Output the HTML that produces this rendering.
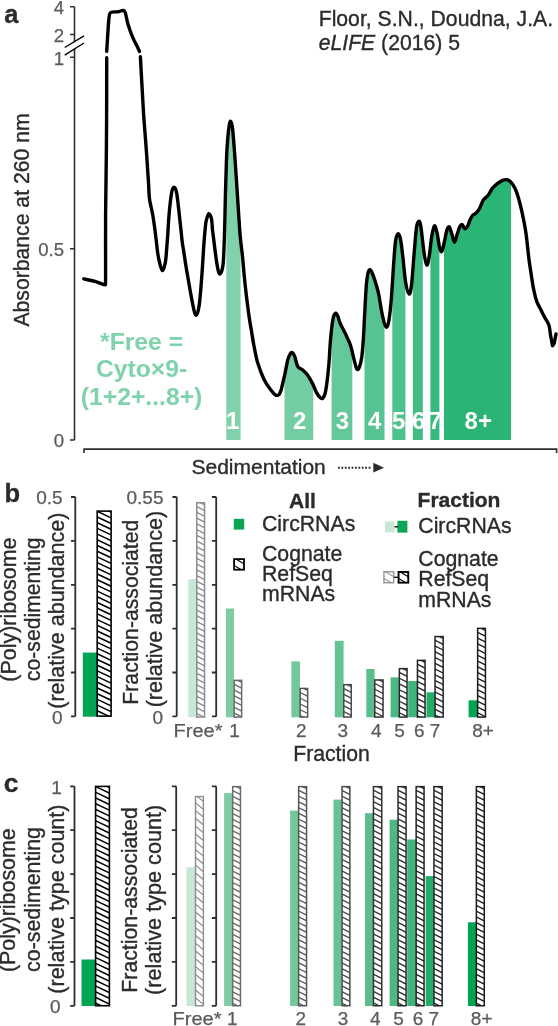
<!DOCTYPE html>
<html><head><meta charset="utf-8"><title>Figure</title>
<style>
html,body{margin:0;padding:0;background:#fff;}
body{width:558px;height:1026px;overflow:hidden;}
svg{display:block;will-change:transform;font-family:"Liberation Sans", sans-serif;}
text[fill="#2b2b2b"]{stroke:#2b2b2b;stroke-width:0.35px;}
text[fill="#5a5a5a"]{stroke:#5a5a5a;stroke-width:0.25px;}
</style></head>
<body>
<svg width="558" height="1026" viewBox="0 0 558 1026">
<defs>
<clipPath id="under"><path d="M140.4 56.8C140.8 64.1 142.2 89.9 142.8 100.4C143.4 110.9 143.4 111.3 144.0 120.0C144.6 128.7 145.8 142.2 146.5 152.6C147.2 163.0 148.0 175.0 148.5 182.7C149.0 190.4 148.8 193.6 149.5 199.0C150.2 204.4 151.8 209.0 152.8 215.3C153.9 221.6 155.1 231.2 155.8 237.0C156.6 242.8 156.8 246.2 157.3 250.0C157.8 253.8 158.2 256.6 159.0 260.0C159.8 263.4 161.2 270.2 162.3 270.6C163.4 271.0 164.6 266.0 165.3 262.6C166.0 259.2 166.2 254.8 166.6 250.0C167.0 245.2 167.4 239.8 167.8 234.0C168.2 228.2 168.4 222.2 169.0 215.3C169.6 208.4 170.8 197.5 171.6 192.8C172.4 188.1 173.3 187.2 174.1 187.2C174.9 187.2 175.8 188.5 176.6 192.8C177.4 197.1 178.2 204.9 179.1 212.8C180.0 220.7 181.3 233.8 182.0 240.0C182.7 246.2 182.7 245.0 183.5 250.0C184.3 255.0 185.0 260.8 186.6 270.0C188.2 279.2 191.3 297.6 192.9 305.2C194.5 312.8 195.1 315.3 196.2 315.3C197.2 315.3 198.3 311.5 199.2 305.2C200.1 298.9 201.0 286.8 201.7 277.6C202.4 268.4 203.1 256.3 203.5 250.0C203.9 243.7 203.9 244.1 204.2 240.0C204.5 235.9 205.2 228.7 205.5 225.4C205.8 222.1 205.8 222.4 206.3 220.4C206.9 218.4 207.9 213.8 208.8 213.6C209.7 213.4 210.9 216.3 211.5 219.0C212.1 221.7 212.1 226.5 212.5 230.0C212.9 233.5 213.4 236.7 213.8 240.0C214.2 243.3 214.4 245.4 215.0 250.0C215.6 254.6 216.8 263.6 217.6 267.6C218.4 271.6 219.1 274.3 220.0 273.9C220.9 273.5 222.3 270.6 223.0 265.0C223.7 259.4 223.9 250.8 224.3 240.0C224.7 229.2 225.0 212.5 225.3 200.0C225.6 187.5 226.0 173.7 226.3 165.0C226.6 156.3 226.7 153.8 227.1 147.6C227.5 141.4 228.3 132.0 228.9 127.6C229.5 123.2 230.0 121.1 230.6 121.3C231.2 121.5 231.8 122.3 232.6 128.8C233.3 135.3 234.3 148.7 235.1 160.2C235.9 171.7 236.8 185.3 237.6 197.8C238.4 210.3 239.3 225.0 240.1 235.0C240.9 245.0 241.8 249.2 242.6 257.6C243.4 266.0 244.1 275.6 245.2 285.2C246.2 294.8 247.9 307.8 248.9 315.3C249.9 322.8 250.5 325.1 251.3 330.0C252.1 334.9 252.8 339.6 253.8 345.0C254.9 350.4 255.9 357.0 257.6 362.6C259.3 368.2 261.7 374.5 263.8 378.9C265.9 383.3 268.2 386.4 270.1 389.0C272.0 391.6 273.6 393.8 275.1 394.7C276.6 395.6 277.8 395.6 278.9 394.7C279.9 393.8 280.3 392.7 281.4 389.0C282.4 385.3 284.1 377.4 285.2 372.6C286.2 367.8 286.9 363.2 287.7 360.1C288.5 357.0 289.4 355.1 290.2 353.8C290.9 352.5 291.4 352.1 292.2 352.5C292.9 352.9 293.8 354.0 294.7 356.3C295.6 358.6 296.4 364.1 297.7 366.4C299.0 368.7 301.0 368.6 302.7 370.1C304.4 371.6 306.0 372.9 307.7 375.2C309.4 377.5 311.2 381.0 312.7 383.9C314.2 386.8 315.2 390.4 316.5 392.7C317.8 395.0 319.2 396.8 320.3 397.7C321.4 398.6 322.0 399.0 322.8 398.2C323.6 397.4 324.5 396.5 325.3 392.7C326.1 388.9 327.2 380.6 327.8 375.2C328.4 369.8 328.8 365.9 329.2 360.0C329.6 354.1 329.9 346.8 330.5 340.0C331.1 333.2 332.2 323.4 333.0 319.0C333.8 314.6 334.7 313.7 335.5 313.3C336.3 312.9 337.2 315.0 338.0 316.6C338.8 318.2 338.8 320.3 340.0 323.0C341.2 325.7 343.3 329.2 345.0 332.9C346.7 336.6 348.9 340.5 350.4 345.0C351.9 349.5 353.1 356.1 354.2 360.1C355.2 364.1 355.9 367.6 356.7 368.9C357.5 370.1 358.4 369.5 359.2 367.6C360.0 365.7 361.0 362.2 361.7 357.6C362.4 353.0 362.8 347.0 363.3 340.0C363.8 333.0 364.1 324.5 364.6 315.4C365.1 306.3 365.7 292.4 366.3 285.3C366.9 278.2 367.5 275.3 368.1 272.7C368.7 270.1 369.4 269.5 370.1 269.7C370.9 269.9 371.6 271.4 372.6 274.0C373.7 276.6 375.3 281.8 376.4 285.3C377.4 288.9 378.1 291.1 378.9 295.3C379.7 299.5 380.6 305.9 381.4 310.3C382.2 314.7 383.1 318.8 383.9 321.6C384.7 324.5 385.6 327.6 386.4 327.4C387.2 327.2 388.1 325.3 388.9 320.4C389.7 315.5 390.6 307.8 391.4 297.8C392.2 287.8 393.2 269.8 393.9 260.2C394.6 250.6 395.0 244.5 395.7 240.1C396.4 235.7 397.4 233.8 398.2 233.8C399.0 233.8 399.9 235.7 400.7 240.1C401.5 244.5 402.4 253.1 403.2 260.2C404.0 267.3 404.7 277.1 405.7 282.7C406.7 288.3 408.0 293.6 409.0 294.0C410.0 294.4 410.7 291.8 411.5 285.3C412.3 278.8 413.2 264.8 414.0 255.2C414.8 245.6 415.7 233.2 416.5 227.6C417.3 221.9 418.2 221.3 419.0 221.3C419.8 221.3 420.2 222.4 421.0 227.6C421.8 232.8 423.1 246.4 424.0 252.6C424.9 258.8 425.8 264.4 426.7 265.0C427.6 265.6 428.4 261.2 429.2 256.5C430.0 251.8 430.8 241.6 431.7 236.5C432.6 231.4 433.5 226.4 434.4 225.8C435.3 225.2 436.1 229.2 437.0 232.7C437.9 236.2 438.7 243.9 439.5 247.0C440.3 250.1 440.9 252.2 441.7 251.5C442.5 250.8 443.4 246.1 444.2 242.7C445.0 239.2 445.9 233.5 446.7 230.8C447.5 228.2 448.3 226.3 449.2 226.8C450.1 227.3 450.9 231.3 451.8 233.9C452.7 236.5 453.6 242.1 454.5 242.2C455.4 242.3 456.2 237.0 457.1 234.5C458.0 232.0 458.8 228.7 459.6 227.0C460.5 225.3 461.4 224.2 462.2 224.5C463.0 224.8 463.8 228.4 464.7 228.7C465.6 229.0 466.6 227.8 467.5 226.4C468.4 225.0 469.2 221.8 470.0 220.0C470.8 218.2 471.5 216.7 472.5 215.5C473.5 214.3 475.0 214.2 476.2 213.0C477.4 211.8 478.3 210.6 479.5 208.5C480.7 206.4 481.8 202.4 483.2 200.2C484.6 198.0 486.7 197.1 488.2 195.2C489.7 193.3 490.5 190.8 492.0 188.9C493.5 187.0 495.3 185.3 497.0 183.9C498.7 182.5 500.4 181.3 502.0 180.6C503.6 179.9 504.9 179.5 506.3 179.6C507.7 179.7 508.9 180.1 510.3 181.4C511.7 182.7 513.2 184.9 514.6 187.6C516.0 190.3 517.1 193.5 518.4 197.7C519.6 201.9 520.9 206.8 522.1 212.7C523.4 218.5 524.8 225.2 525.9 232.8C527.0 240.4 528.0 251.5 528.8 258.0C529.6 264.5 530.0 266.5 530.8 271.8C531.6 277.1 532.7 284.7 533.7 289.6C534.7 294.5 535.6 298.1 536.7 301.4C537.9 304.7 539.3 306.7 540.6 309.3C541.9 311.9 543.2 314.6 544.6 317.2C546.0 319.8 547.9 322.1 548.9 325.0C549.9 327.9 550.2 333.2 550.5 334.9L550.5 440.0 L140.4 440.0 Z"/></clipPath>
<clipPath id="c1"><rect x="97.20" y="511.10" width="13.90" height="205.00"/></clipPath>
<clipPath id="c2"><rect x="196.75" y="502.75" width="7.80" height="214.30"/></clipPath>
<clipPath id="c3"><rect x="234.15" y="680.35" width="7.50" height="36.70"/></clipPath>
<clipPath id="c4"><rect x="300.15" y="688.45" width="7.50" height="28.60"/></clipPath>
<clipPath id="c5"><rect x="343.75" y="684.65" width="7.50" height="32.40"/></clipPath>
<clipPath id="c6"><rect x="374.75" y="679.95" width="8.30" height="37.10"/></clipPath>
<clipPath id="c7"><rect x="399.35" y="668.65" width="7.70" height="48.40"/></clipPath>
<clipPath id="c8"><rect x="417.45" y="660.35" width="7.60" height="56.70"/></clipPath>
<clipPath id="c9"><rect x="435.05" y="636.55" width="8.10" height="80.50"/></clipPath>
<clipPath id="c10"><rect x="477.65" y="628.35" width="7.80" height="88.70"/></clipPath>
<clipPath id="c11"><rect x="234.10" y="559.10" width="9.90" height="10.60"/></clipPath>
<clipPath id="c12"><rect x="383.95" y="571.75" width="9.70" height="11.00"/></clipPath>
<clipPath id="c13"><rect x="398.55" y="571.95" width="9.70" height="10.70"/></clipPath>
<clipPath id="c14"><rect x="95.60" y="786.40" width="13.80" height="219.30"/></clipPath>
<clipPath id="c15"><rect x="195.50" y="796.50" width="7.90" height="209.30"/></clipPath>
<clipPath id="c16"><rect x="232.65" y="786.65" width="7.80" height="219.10"/></clipPath>
<clipPath id="c17"><rect x="298.65" y="786.65" width="7.90" height="219.10"/></clipPath>
<clipPath id="c18"><rect x="342.05" y="786.65" width="7.80" height="219.10"/></clipPath>
<clipPath id="c19"><rect x="373.45" y="786.65" width="8.30" height="219.10"/></clipPath>
<clipPath id="c20"><rect x="398.05" y="786.65" width="8.00" height="219.10"/></clipPath>
<clipPath id="c21"><rect x="416.15" y="786.65" width="7.90" height="219.10"/></clipPath>
<clipPath id="c22"><rect x="433.95" y="786.65" width="8.20" height="219.10"/></clipPath>
<clipPath id="c23"><rect x="476.35" y="786.65" width="7.90" height="219.10"/></clipPath>
</defs>
<rect width="558" height="1026" fill="#fff"/>
<g clip-path="url(#under)">
<rect x="226.3" y="100" width="14.3" height="340.0" fill="#7fd2aa"/>
<rect x="284.5" y="100" width="28.7" height="340.0" fill="#72cda2"/>
<rect x="331.6" y="100" width="20.7" height="340.0" fill="#65c89a"/>
<rect x="364.5" y="100" width="20.0" height="340.0" fill="#58c392"/>
<rect x="392.3" y="100" width="13.1" height="340.0" fill="#4dc08b"/>
<rect x="412.9" y="100" width="9.9" height="340.0" fill="#43bc84"/>
<rect x="430.4" y="100" width="9.0" height="340.0" fill="#38b97d"/>
<rect x="444.0" y="100" width="67.0" height="340.0" fill="#2bb574"/>
</g>
<path d="M83.8 278.9C85.7 279.3 91.7 280.4 95.0 281.4C98.3 282.4 102.4 284.1 103.9 284.7L105.3 284.0C105.3 282.9 105.5 289.1 105.6 277.6C105.6 266.1 105.5 233.8 105.6 215.0C105.7 196.2 106.0 180.8 106.2 165.0C106.4 149.2 106.5 137.9 106.6 120.0C106.7 102.1 106.7 68.1 106.7 57.7" fill="none" stroke="#000" stroke-width="3.4" stroke-linecap="round" stroke-linejoin="round"/>
<path d="M106.7 51.4C107.1 46.0 108.2 25.3 108.9 18.8C109.6 12.3 109.4 13.7 110.9 12.5C112.5 11.3 116.2 12.1 118.2 11.8C120.2 11.5 121.5 10.4 122.7 10.5C123.9 10.6 124.3 10.1 125.2 12.5C126.1 14.9 126.9 20.9 128.2 25.1C129.5 29.3 131.2 33.8 132.8 37.6C134.4 41.4 136.7 45.4 137.8 47.7C138.9 50.0 139.2 50.8 139.5 51.4" fill="none" stroke="#000" stroke-width="3.4" stroke-linecap="round" stroke-linejoin="round"/>
<path d="M140.4 56.8C140.8 64.1 142.2 89.9 142.8 100.4C143.4 110.9 143.4 111.3 144.0 120.0C144.6 128.7 145.8 142.2 146.5 152.6C147.2 163.0 148.0 175.0 148.5 182.7C149.0 190.4 148.8 193.6 149.5 199.0C150.2 204.4 151.8 209.0 152.8 215.3C153.9 221.6 155.1 231.2 155.8 237.0C156.6 242.8 156.8 246.2 157.3 250.0C157.8 253.8 158.2 256.6 159.0 260.0C159.8 263.4 161.2 270.2 162.3 270.6C163.4 271.0 164.6 266.0 165.3 262.6C166.0 259.2 166.2 254.8 166.6 250.0C167.0 245.2 167.4 239.8 167.8 234.0C168.2 228.2 168.4 222.2 169.0 215.3C169.6 208.4 170.8 197.5 171.6 192.8C172.4 188.1 173.3 187.2 174.1 187.2C174.9 187.2 175.8 188.5 176.6 192.8C177.4 197.1 178.2 204.9 179.1 212.8C180.0 220.7 181.3 233.8 182.0 240.0C182.7 246.2 182.7 245.0 183.5 250.0C184.3 255.0 185.0 260.8 186.6 270.0C188.2 279.2 191.3 297.6 192.9 305.2C194.5 312.8 195.1 315.3 196.2 315.3C197.2 315.3 198.3 311.5 199.2 305.2C200.1 298.9 201.0 286.8 201.7 277.6C202.4 268.4 203.1 256.3 203.5 250.0C203.9 243.7 203.9 244.1 204.2 240.0C204.5 235.9 205.2 228.7 205.5 225.4C205.8 222.1 205.8 222.4 206.3 220.4C206.9 218.4 207.9 213.8 208.8 213.6C209.7 213.4 210.9 216.3 211.5 219.0C212.1 221.7 212.1 226.5 212.5 230.0C212.9 233.5 213.4 236.7 213.8 240.0C214.2 243.3 214.4 245.4 215.0 250.0C215.6 254.6 216.8 263.6 217.6 267.6C218.4 271.6 219.1 274.3 220.0 273.9C220.9 273.5 222.3 270.6 223.0 265.0C223.7 259.4 223.9 250.8 224.3 240.0C224.7 229.2 225.0 212.5 225.3 200.0C225.6 187.5 226.0 173.7 226.3 165.0C226.6 156.3 226.7 153.8 227.1 147.6C227.5 141.4 228.3 132.0 228.9 127.6C229.5 123.2 230.0 121.1 230.6 121.3C231.2 121.5 231.8 122.3 232.6 128.8C233.3 135.3 234.3 148.7 235.1 160.2C235.9 171.7 236.8 185.3 237.6 197.8C238.4 210.3 239.3 225.0 240.1 235.0C240.9 245.0 241.8 249.2 242.6 257.6C243.4 266.0 244.1 275.6 245.2 285.2C246.2 294.8 247.9 307.8 248.9 315.3C249.9 322.8 250.5 325.1 251.3 330.0C252.1 334.9 252.8 339.6 253.8 345.0C254.9 350.4 255.9 357.0 257.6 362.6C259.3 368.2 261.7 374.5 263.8 378.9C265.9 383.3 268.2 386.4 270.1 389.0C272.0 391.6 273.6 393.8 275.1 394.7C276.6 395.6 277.8 395.6 278.9 394.7C279.9 393.8 280.3 392.7 281.4 389.0C282.4 385.3 284.1 377.4 285.2 372.6C286.2 367.8 286.9 363.2 287.7 360.1C288.5 357.0 289.4 355.1 290.2 353.8C290.9 352.5 291.4 352.1 292.2 352.5C292.9 352.9 293.8 354.0 294.7 356.3C295.6 358.6 296.4 364.1 297.7 366.4C299.0 368.7 301.0 368.6 302.7 370.1C304.4 371.6 306.0 372.9 307.7 375.2C309.4 377.5 311.2 381.0 312.7 383.9C314.2 386.8 315.2 390.4 316.5 392.7C317.8 395.0 319.2 396.8 320.3 397.7C321.4 398.6 322.0 399.0 322.8 398.2C323.6 397.4 324.5 396.5 325.3 392.7C326.1 388.9 327.2 380.6 327.8 375.2C328.4 369.8 328.8 365.9 329.2 360.0C329.6 354.1 329.9 346.8 330.5 340.0C331.1 333.2 332.2 323.4 333.0 319.0C333.8 314.6 334.7 313.7 335.5 313.3C336.3 312.9 337.2 315.0 338.0 316.6C338.8 318.2 338.8 320.3 340.0 323.0C341.2 325.7 343.3 329.2 345.0 332.9C346.7 336.6 348.9 340.5 350.4 345.0C351.9 349.5 353.1 356.1 354.2 360.1C355.2 364.1 355.9 367.6 356.7 368.9C357.5 370.1 358.4 369.5 359.2 367.6C360.0 365.7 361.0 362.2 361.7 357.6C362.4 353.0 362.8 347.0 363.3 340.0C363.8 333.0 364.1 324.5 364.6 315.4C365.1 306.3 365.7 292.4 366.3 285.3C366.9 278.2 367.5 275.3 368.1 272.7C368.7 270.1 369.4 269.5 370.1 269.7C370.9 269.9 371.6 271.4 372.6 274.0C373.7 276.6 375.3 281.8 376.4 285.3C377.4 288.9 378.1 291.1 378.9 295.3C379.7 299.5 380.6 305.9 381.4 310.3C382.2 314.7 383.1 318.8 383.9 321.6C384.7 324.5 385.6 327.6 386.4 327.4C387.2 327.2 388.1 325.3 388.9 320.4C389.7 315.5 390.6 307.8 391.4 297.8C392.2 287.8 393.2 269.8 393.9 260.2C394.6 250.6 395.0 244.5 395.7 240.1C396.4 235.7 397.4 233.8 398.2 233.8C399.0 233.8 399.9 235.7 400.7 240.1C401.5 244.5 402.4 253.1 403.2 260.2C404.0 267.3 404.7 277.1 405.7 282.7C406.7 288.3 408.0 293.6 409.0 294.0C410.0 294.4 410.7 291.8 411.5 285.3C412.3 278.8 413.2 264.8 414.0 255.2C414.8 245.6 415.7 233.2 416.5 227.6C417.3 221.9 418.2 221.3 419.0 221.3C419.8 221.3 420.2 222.4 421.0 227.6C421.8 232.8 423.1 246.4 424.0 252.6C424.9 258.8 425.8 264.4 426.7 265.0C427.6 265.6 428.4 261.2 429.2 256.5C430.0 251.8 430.8 241.6 431.7 236.5C432.6 231.4 433.5 226.4 434.4 225.8C435.3 225.2 436.1 229.2 437.0 232.7C437.9 236.2 438.7 243.9 439.5 247.0C440.3 250.1 440.9 252.2 441.7 251.5C442.5 250.8 443.4 246.1 444.2 242.7C445.0 239.2 445.9 233.5 446.7 230.8C447.5 228.2 448.3 226.3 449.2 226.8C450.1 227.3 450.9 231.3 451.8 233.9C452.7 236.5 453.6 242.1 454.5 242.2C455.4 242.3 456.2 237.0 457.1 234.5C458.0 232.0 458.8 228.7 459.6 227.0C460.5 225.3 461.4 224.2 462.2 224.5C463.0 224.8 463.8 228.4 464.7 228.7C465.6 229.0 466.6 227.8 467.5 226.4C468.4 225.0 469.2 221.8 470.0 220.0C470.8 218.2 471.5 216.7 472.5 215.5C473.5 214.3 475.0 214.2 476.2 213.0C477.4 211.8 478.3 210.6 479.5 208.5C480.7 206.4 481.8 202.4 483.2 200.2C484.6 198.0 486.7 197.1 488.2 195.2C489.7 193.3 490.5 190.8 492.0 188.9C493.5 187.0 495.3 185.3 497.0 183.9C498.7 182.5 500.4 181.3 502.0 180.6C503.6 179.9 504.9 179.5 506.3 179.6C507.7 179.7 508.9 180.1 510.3 181.4C511.7 182.7 513.2 184.9 514.6 187.6C516.0 190.3 517.1 193.5 518.4 197.7C519.6 201.9 520.9 206.8 522.1 212.7C523.4 218.5 524.8 225.2 525.9 232.8C527.0 240.4 528.0 251.5 528.8 258.0C529.6 264.5 530.0 266.5 530.8 271.8C531.6 277.1 532.7 284.7 533.7 289.6C534.7 294.5 535.6 298.1 536.7 301.4C537.9 304.7 539.3 306.7 540.6 309.3C541.9 311.9 543.2 314.6 544.6 317.2C546.0 319.8 547.9 322.1 548.9 325.0C549.9 327.9 549.9 331.4 550.5 334.9C551.1 338.3 552.2 343.9 552.5 345.7L554.3 343.0L556.0 333.9" fill="none" stroke="#000" stroke-width="3.4" stroke-linecap="round" stroke-linejoin="round"/>
<text x="232.7" y="428.6" font-size="24" font-weight="bold" fill="#fff" text-anchor="middle">1</text>
<text x="299.8" y="428.6" font-size="24" font-weight="bold" fill="#fff" text-anchor="middle">2</text>
<text x="342.4" y="428.6" font-size="24" font-weight="bold" fill="#fff" text-anchor="middle">3</text>
<text x="374.8" y="428.6" font-size="24" font-weight="bold" fill="#fff" text-anchor="middle">4</text>
<text x="398.6" y="428.6" font-size="24" font-weight="bold" fill="#fff" text-anchor="middle">5</text>
<text x="418.6" y="428.6" font-size="24" font-weight="bold" fill="#fff" text-anchor="middle">6</text>
<text x="435.1" y="428.6" font-size="24" font-weight="bold" fill="#fff" text-anchor="middle">7</text>
<text x="478.3" y="428.6" font-size="24" font-weight="bold" fill="#fff" text-anchor="middle">8+</text>
<path d="M74.5 6.7V42.2 M74.5 48.8V440 M70 6.7H74.5 M70 34.5H74.5 M70 57.3H74.5 M70 248.7H74.5 M70 440H74.5" fill="none" stroke="#2e2e2e" stroke-width="1.6"/>
<path d="M64.7 47.5L84 35.8 M64.7 55.1L84 43" fill="none" stroke="#000" stroke-width="1.4"/>
<path d="M84 453V449.1H556.6V453" fill="none" stroke="#2e2e2e" stroke-width="1.6"/>
<text x="64.0" y="13.9" font-size="18.6" fill="#5a5a5a" text-anchor="end">4</text>
<text x="64.0" y="41.7" font-size="18.6" fill="#5a5a5a" text-anchor="end">2</text>
<text x="64.0" y="64.5" font-size="18.6" fill="#5a5a5a" text-anchor="end">1</text>
<text x="64.0" y="256.0" font-size="18.6" fill="#5a5a5a" text-anchor="end">0.5</text>
<text x="64.0" y="447.0" font-size="18.6" fill="#5a5a5a" text-anchor="end">0</text>
<text transform="translate(29.2 220) rotate(-90)" font-size="21.2" fill="#2b2b2b" text-anchor="middle">Absorbance at 260 nm</text>
<text x="191.5" y="474.3" font-size="21" fill="#2b2b2b">Sedimentation</text>
<path d="M338 467.7H372" stroke="#2b2b2b" stroke-width="1.9" stroke-dasharray="1.8 1.6" fill="none"/>
<path d="M373.3 462.8L384 467.7L373.3 472.6Z" fill="#2b2b2b"/>
<text x="318.7" y="26" font-size="21.2" fill="#2b2b2b">Floor, S.N., Doudna, J.A.</text>
<text x="318.7" y="50" font-size="21.2" fill="#2b2b2b"><tspan font-style="italic">eLIFE</tspan> (2016) 5</text>
<text x="4.3" y="23.0" font-size="25.5" font-weight="bold" fill="#2b2b2b">a</text>
<text x="4.6" y="501.5" font-size="25.5" font-weight="bold" fill="#2b2b2b">b</text>
<text x="3.8" y="791.5" font-size="26.5" font-weight="bold" fill="#2b2b2b">c</text>
<text x="141.6" y="349.7" font-size="24.7" font-weight="bold" fill="#7fd2aa" text-anchor="middle">*Free =</text>
<text x="141.6" y="377.4" font-size="24.7" font-weight="bold" fill="#7fd2aa" text-anchor="middle">Cyto×9-</text>
<text x="141.6" y="405.4" font-size="24.7" font-weight="bold" fill="#7fd2aa" text-anchor="middle">(1+2+...8+)</text>
<path d="M75.3 497.0V716.4M71.0 497.0H75.3M71.0 540.9H75.3M71.0 584.8H75.3M71.0 628.6H75.3M71.0 672.5H75.3M71.0 716.4H75.3" fill="none" stroke="#2e2e2e" stroke-width="1.8"/>
<rect x="82.80" y="652.60" width="14.20" height="64.10" fill="#00a551"/>
<rect x="97.20" y="511.10" width="13.90" height="205.00" fill="#fff"/>
<path d="M96.2 499.4L112.1 506.9M96.2 505.1L112.1 512.6M96.2 510.8L112.1 518.3M96.2 516.5L112.1 524.0M96.2 522.2L112.1 529.7M96.2 527.9L112.1 535.4M96.2 533.6L112.1 541.1M96.2 539.3L112.1 546.8M96.2 545.0L112.1 552.5M96.2 550.7L112.1 558.2M96.2 556.4L112.1 563.9M96.2 562.1L112.1 569.6M96.2 567.8L112.1 575.3M96.2 573.5L112.1 581.0M96.2 579.2L112.1 586.7M96.2 584.9L112.1 592.4M96.2 590.6L112.1 598.1M96.2 596.3L112.1 603.8M96.2 602.0L112.1 609.5M96.2 607.7L112.1 615.2M96.2 613.4L112.1 620.9M96.2 619.1L112.1 626.6M96.2 624.8L112.1 632.3M96.2 630.5L112.1 638.0M96.2 636.2L112.1 643.7M96.2 641.9L112.1 649.4M96.2 647.6L112.1 655.1M96.2 653.3L112.1 660.8M96.2 659.0L112.1 666.5M96.2 664.7L112.1 672.2M96.2 670.4L112.1 677.9M96.2 676.1L112.1 683.6M96.2 681.8L112.1 689.3M96.2 687.5L112.1 695.0M96.2 693.2L112.1 700.7M96.2 698.9L112.1 706.4M96.2 704.6L112.1 712.1M96.2 710.3L112.1 717.8M96.2 716.0L112.1 723.5" clip-path="url(#c1)" stroke="#000" stroke-width="1.50" fill="none"/>
<rect x="97.20" y="511.10" width="13.90" height="205.00" fill="none" stroke="#000" stroke-width="1.60"/>
<text x="62.6" y="503.7" font-size="19" fill="#5a5a5a" text-anchor="end">0.5</text>
<text x="62.6" y="723.7" font-size="19" fill="#5a5a5a" text-anchor="end">0</text>
<text transform="translate(15.7 609.6) rotate(-90)" font-size="21.45" fill="#2b2b2b" text-anchor="middle">(Poly)ribosome</text>
<text transform="translate(40.0 609.3) rotate(-90)" font-size="21.2" fill="#2b2b2b" text-anchor="middle">co-sedimenting</text>
<text transform="translate(63.8 610.7) rotate(-90)" font-size="21.5" fill="#2b2b2b" text-anchor="middle">(relative abundance)</text>
<path d="M176.7 497.0V716.4M172.4 497.0H176.7M172.4 540.9H176.7M172.4 584.8H176.7M172.4 628.6H176.7M172.4 672.5H176.7M172.4 716.4H176.7" fill="none" stroke="#2e2e2e" stroke-width="1.8"/>
<path d="M216.2 497.0V716.4M211.9 497.0H216.2M211.9 540.9H216.2M211.9 584.8H216.2M211.9 628.6H216.2M211.9 672.5H216.2M211.9 716.4H216.2" fill="none" stroke="#2e2e2e" stroke-width="1.8"/>
<text x="163.5" y="503.5" font-size="19" fill="#5a5a5a" text-anchor="end">0.55</text>
<text x="163" y="723.5" font-size="19" fill="#5a5a5a" text-anchor="end">0</text>
<text transform="translate(137.5 612.2) rotate(-90)" font-size="21.2" fill="#2b2b2b" text-anchor="middle">Fraction-associated</text>
<text transform="translate(161.9 609.1) rotate(-90)" font-size="21.55" fill="#2b2b2b" text-anchor="middle">(relative abundance)</text>
<rect x="188.30" y="579.20" width="8.30" height="138.10" fill="#c8e8d6"/>
<rect x="196.75" y="502.75" width="7.80" height="214.30" fill="#fff"/>
<path d="M195.8 494.6L205.6 499.5M195.8 500.4L205.6 505.2M195.8 506.1L205.6 511.0M195.8 511.9L205.6 516.8M195.8 517.6L205.6 522.5M195.8 523.4L205.6 528.2M195.8 529.1L205.6 534.0M195.8 534.9L205.6 539.8M195.8 540.6L205.6 545.5M195.8 546.4L205.6 551.2M195.8 552.1L205.6 557.0M195.8 557.9L205.6 562.8M195.8 563.6L205.6 568.5M195.8 569.4L205.6 574.2M195.8 575.1L205.6 580.0M195.8 580.9L205.6 585.8M195.8 586.6L205.6 591.5M195.8 592.4L205.6 597.2M195.8 598.1L205.6 603.0M195.8 603.9L205.6 608.8M195.8 609.6L205.6 614.5M195.8 615.4L205.6 620.2M195.8 621.1L205.6 626.0M195.8 626.9L205.6 631.8M195.8 632.6L205.6 637.5M195.8 638.4L205.6 643.2M195.8 644.1L205.6 649.0M195.8 649.9L205.6 654.8M195.8 655.6L205.6 660.5M195.8 661.4L205.6 666.2M195.8 667.1L205.6 672.0M195.8 672.9L205.6 677.8M195.8 678.6L205.6 683.5M195.8 684.4L205.6 689.2M195.8 690.1L205.6 695.0M195.8 695.9L205.6 700.8M195.8 701.6L205.6 706.5M195.8 707.4L205.6 712.2M195.8 713.1L205.6 718.0M195.8 718.9L205.6 723.8" clip-path="url(#c2)" stroke="#8c8c8c" stroke-width="1.30" fill="none"/>
<rect x="196.75" y="502.75" width="7.80" height="214.30" fill="none" stroke="#8c8c8c" stroke-width="1.50"/>
<rect x="225.90" y="608.50" width="8.10" height="108.80" fill="#7fcca4"/>
<rect x="234.15" y="680.35" width="7.50" height="36.70" fill="#fff"/>
<path d="M233.1 672.4L242.7 677.1M233.1 678.1L242.7 682.9M233.1 683.9L242.7 688.6M233.1 689.6L242.7 694.4M233.1 695.4L242.7 700.1M233.1 701.1L242.7 705.9M233.1 706.9L242.7 711.6M233.1 712.6L242.7 717.4M233.1 718.4L242.7 723.1" clip-path="url(#c3)" stroke="#6a6a6a" stroke-width="1.30" fill="none"/>
<rect x="234.15" y="680.35" width="7.50" height="36.70" fill="none" stroke="#6a6a6a" stroke-width="1.50"/>
<rect x="291.40" y="661.40" width="8.60" height="55.90" fill="#73c79c"/>
<rect x="300.15" y="688.45" width="7.50" height="28.60" fill="#fff"/>
<path d="M299.1 680.4L308.6 685.2M299.1 686.2L308.6 690.9M299.1 691.9L308.6 696.7M299.1 697.7L308.6 702.4M299.1 703.4L308.6 708.2M299.1 709.2L308.6 713.9M299.1 714.9L308.6 719.7M299.1 720.7L308.6 725.4" clip-path="url(#c4)" stroke="#555" stroke-width="1.30" fill="none"/>
<rect x="300.15" y="688.45" width="7.50" height="28.60" fill="none" stroke="#555" stroke-width="1.50"/>
<rect x="334.80" y="640.90" width="8.80" height="76.40" fill="#66c394"/>
<rect x="343.75" y="684.65" width="7.50" height="32.40" fill="#fff"/>
<path d="M342.8 676.6L352.2 681.4M342.8 682.4L352.2 687.1M342.8 688.1L352.2 692.9M342.8 693.9L352.2 698.6M342.8 699.6L352.2 704.4M342.8 705.4L352.2 710.1M342.8 711.1L352.2 715.9M342.8 716.9L352.2 721.6" clip-path="url(#c5)" stroke="#4a4a4a" stroke-width="1.30" fill="none"/>
<rect x="343.75" y="684.65" width="7.50" height="32.40" fill="none" stroke="#4a4a4a" stroke-width="1.50"/>
<rect x="366.30" y="669.00" width="8.30" height="48.30" fill="#5abe8c"/>
<rect x="374.75" y="679.95" width="8.30" height="37.10" fill="#fff"/>
<path d="M373.8 671.5L384.1 676.7M373.8 677.3L384.1 682.4M373.8 683.0L384.1 688.2M373.8 688.8L384.1 693.9M373.8 694.5L384.1 699.7M373.8 700.3L384.1 705.4M373.8 706.0L384.1 711.2M373.8 711.8L384.1 716.9M373.8 717.5L384.1 722.7" clip-path="url(#c6)" stroke="#333" stroke-width="1.30" fill="none"/>
<rect x="374.75" y="679.95" width="8.30" height="37.10" fill="none" stroke="#333" stroke-width="1.50"/>
<rect x="390.60" y="677.30" width="8.60" height="40.00" fill="#4cb983"/>
<rect x="399.35" y="668.65" width="7.70" height="48.40" fill="#fff"/>
<path d="M398.3 660.5L408.1 665.4M398.3 666.3L408.1 671.1M398.3 672.0L408.1 676.9M398.3 677.8L408.1 682.6M398.3 683.5L408.1 688.4M398.3 689.3L408.1 694.1M398.3 695.0L408.1 699.9M398.3 700.8L408.1 705.6M398.3 706.5L408.1 711.4M398.3 712.3L408.1 717.1M398.3 718.0L408.1 722.9" clip-path="url(#c7)" stroke="#2a2a2a" stroke-width="1.30" fill="none"/>
<rect x="399.35" y="668.65" width="7.70" height="48.40" fill="none" stroke="#2a2a2a" stroke-width="1.50"/>
<rect x="408.20" y="681.00" width="9.10" height="36.30" fill="#3eb57a"/>
<rect x="417.45" y="660.35" width="7.60" height="56.70" fill="#fff"/>
<path d="M416.4 652.3L426.1 657.1M416.4 658.0L426.1 662.8M416.4 663.8L426.1 668.6M416.4 669.5L426.1 674.3M416.4 675.3L426.1 680.1M416.4 681.0L426.1 685.8M416.4 686.8L426.1 691.6M416.4 692.5L426.1 697.3M416.4 698.3L426.1 703.1M416.4 704.0L426.1 708.8M416.4 709.8L426.1 714.6M416.4 715.5L426.1 720.3M416.4 721.3L426.1 726.1" clip-path="url(#c8)" stroke="#222" stroke-width="1.30" fill="none"/>
<rect x="417.45" y="660.35" width="7.60" height="56.70" fill="none" stroke="#222" stroke-width="1.50"/>
<rect x="426.50" y="692.30" width="8.40" height="25.00" fill="#22ad68"/>
<rect x="435.05" y="636.55" width="8.10" height="80.50" fill="#fff"/>
<path d="M434.1 628.2L444.1 633.3M434.1 634.0L444.1 639.0M434.1 639.8L444.1 644.8M434.1 645.5L444.1 650.5M434.1 651.2L444.1 656.3M434.1 657.0L444.1 662.0M434.1 662.8L444.1 667.8M434.1 668.5L444.1 673.5M434.1 674.2L444.1 679.3M434.1 680.0L444.1 685.0M434.1 685.8L444.1 690.8M434.1 691.5L444.1 696.5M434.1 697.2L444.1 702.3M434.1 703.0L444.1 708.0M434.1 708.8L444.1 713.8M434.1 714.5L444.1 719.5M434.1 720.2L444.1 725.3" clip-path="url(#c9)" stroke="#222" stroke-width="1.30" fill="none"/>
<rect x="435.05" y="636.55" width="8.10" height="80.50" fill="none" stroke="#222" stroke-width="1.50"/>
<rect x="468.60" y="700.30" width="8.90" height="17.00" fill="#00a551"/>
<rect x="477.65" y="628.35" width="7.80" height="88.70" fill="#fff"/>
<path d="M476.6 620.2L486.4 625.1M476.6 626.0L486.4 630.9M476.6 631.7L486.4 636.6M476.6 637.5L486.4 642.4M476.6 643.2L486.4 648.1M476.6 649.0L486.4 653.9M476.6 654.7L486.4 659.6M476.6 660.5L486.4 665.4M476.6 666.2L486.4 671.1M476.6 672.0L486.4 676.9M476.6 677.7L486.4 682.6M476.6 683.5L486.4 688.4M476.6 689.2L486.4 694.1M476.6 695.0L486.4 699.9M476.6 700.7L486.4 705.6M476.6 706.5L486.4 711.4M476.6 712.2L486.4 717.1M476.6 718.0L486.4 722.9" clip-path="url(#c10)" stroke="#1a1a1a" stroke-width="1.30" fill="none"/>
<rect x="477.65" y="628.35" width="7.80" height="88.70" fill="none" stroke="#1a1a1a" stroke-width="1.50"/>
<text x="198.0" y="736.9" font-size="19" fill="#5a5a5a" text-anchor="middle" textLength="49" lengthAdjust="spacingAndGlyphs">Free*</text>
<text x="234.5" y="736.9" font-size="19" fill="#5a5a5a" text-anchor="middle">1</text>
<text x="301.4" y="736.9" font-size="19" fill="#5a5a5a" text-anchor="middle">2</text>
<text x="342.8" y="736.9" font-size="19" fill="#5a5a5a" text-anchor="middle">3</text>
<text x="376.2" y="736.9" font-size="19" fill="#5a5a5a" text-anchor="middle">4</text>
<text x="399.6" y="736.9" font-size="19" fill="#5a5a5a" text-anchor="middle">5</text>
<text x="419.4" y="736.9" font-size="19" fill="#5a5a5a" text-anchor="middle">6</text>
<text x="435.0" y="736.9" font-size="19" fill="#5a5a5a" text-anchor="middle">7</text>
<text x="483.0" y="736.9" font-size="19" fill="#5a5a5a" text-anchor="middle">8+</text>
<text x="293.2" y="761.0" font-size="21.2" fill="#2b2b2b">Fraction</text>
<text x="302.5" y="507.8" font-size="21" font-weight="bold" fill="#2b2b2b" text-anchor="middle">All</text>
<text x="262" y="530.5" font-size="21.25" fill="#2b2b2b">CircRNAs</text>
<text x="262" y="561.0" font-size="21.25" fill="#2b2b2b">Cognate</text>
<text x="262" y="580.7" font-size="21.25" fill="#2b2b2b">RefSeq</text>
<text x="262" y="600.6" font-size="21.25" fill="#2b2b2b">mRNAs</text>
<rect x="233.80" y="518.80" width="10.40" height="10.80" fill="#0aa655"/>
<rect x="234.10" y="559.10" width="9.90" height="10.60" fill="#fff" stroke="#000" stroke-width="1.80"/>
<path d="M233.2 557.4L244.9 564.4M233.2 564.9L244.9 571.9" clip-path="url(#c11)" stroke="#000" stroke-width="1.2" fill="none"/>
<text x="459" y="506.9" font-size="21" font-weight="bold" fill="#2b2b2b" text-anchor="middle">Fraction</text>
<text x="418.3" y="532.6" font-size="21.25" fill="#2b2b2b">CircRNAs</text>
<text x="418.3" y="566.2" font-size="21.25" fill="#2b2b2b">Cognate</text>
<text x="418.3" y="586.1" font-size="21.25" fill="#2b2b2b">RefSeq</text>
<text x="418.3" y="606.6" font-size="21.25" fill="#2b2b2b">mRNAs</text>
<rect x="385.00" y="521.50" width="9.60" height="10.90" fill="#c8e8d6"/>
<rect x="397.40" y="520.80" width="10.00" height="11.80" fill="#0aa655"/>
<path d="M394.5 526.8H398" stroke="#000" stroke-width="1.3"/>
<rect x="383.95" y="571.75" width="9.70" height="11.00" fill="#fff" stroke="#9a9a9a" stroke-width="1.50"/>
<path d="M383.2 570.4L394.4 577.1M383.2 577.9L394.4 584.6" clip-path="url(#c12)" stroke="#9a9a9a" stroke-width="1.2" fill="none"/>
<rect x="398.55" y="571.95" width="9.70" height="10.70" fill="#fff" stroke="#000" stroke-width="1.90"/>
<path d="M397.6 570.3L409.2 577.3M397.6 577.9L409.2 584.8" clip-path="url(#c13)" stroke="#000" stroke-width="1.2" fill="none"/>
<path d="M394 577.3H397.8" stroke="#000" stroke-width="1.3"/>
<path d="M74.5 786.3V1005.8M70.2 786.3H74.5M70.2 830.2H74.5M70.2 874.1H74.5M70.2 918.0H74.5M70.2 961.9H74.5M70.2 1005.8H74.5" fill="none" stroke="#2e2e2e" stroke-width="1.8"/>
<rect x="81.50" y="959.50" width="14.00" height="46.50" fill="#00a551"/>
<rect x="95.60" y="786.40" width="13.80" height="219.30" fill="#fff"/>
<path d="M94.6 774.7L110.4 782.2M94.6 780.4L110.4 787.9M94.6 786.1L110.4 793.6M94.6 791.8L110.4 799.3M94.6 797.5L110.4 805.0M94.6 803.2L110.4 810.7M94.6 808.9L110.4 816.4M94.6 814.6L110.4 822.1M94.6 820.3L110.4 827.8M94.6 826.0L110.4 833.5M94.6 831.7L110.4 839.2M94.6 837.4L110.4 844.9M94.6 843.1L110.4 850.6M94.6 848.8L110.4 856.3M94.6 854.5L110.4 862.0M94.6 860.2L110.4 867.7M94.6 865.9L110.4 873.4M94.6 871.6L110.4 879.1M94.6 877.3L110.4 884.8M94.6 883.0L110.4 890.5M94.6 888.7L110.4 896.2M94.6 894.4L110.4 901.9M94.6 900.1L110.4 907.6M94.6 905.8L110.4 913.3M94.6 911.5L110.4 919.0M94.6 917.2L110.4 924.7M94.6 922.9L110.4 930.4M94.6 928.6L110.4 936.1M94.6 934.3L110.4 941.8M94.6 940.0L110.4 947.5M94.6 945.7L110.4 953.2M94.6 951.4L110.4 958.9M94.6 957.1L110.4 964.6M94.6 962.8L110.4 970.3M94.6 968.5L110.4 976.0M94.6 974.2L110.4 981.7M94.6 979.9L110.4 987.4M94.6 985.6L110.4 993.1M94.6 991.3L110.4 998.8M94.6 997.0L110.4 1004.5M94.6 1002.7L110.4 1010.2M94.6 1008.4L110.4 1015.9" clip-path="url(#c14)" stroke="#000" stroke-width="1.50" fill="none"/>
<rect x="95.60" y="786.40" width="13.80" height="219.30" fill="none" stroke="#000" stroke-width="1.60"/>
<text x="61.8" y="794" font-size="19" fill="#5a5a5a" text-anchor="end">1</text>
<text x="60.5" y="1013.4" font-size="19" fill="#5a5a5a" text-anchor="end">0</text>
<text transform="translate(15.3 900.2) rotate(-90)" font-size="21.4" fill="#2b2b2b" text-anchor="middle">(Poly)ribosome</text>
<text transform="translate(39.5 899.5) rotate(-90)" font-size="21.36" fill="#2b2b2b" text-anchor="middle">co-sedimenting</text>
<text transform="translate(63.6 899.1) rotate(-90)" font-size="21.55" fill="#2b2b2b" text-anchor="middle">(relative type count)</text>
<path d="M176.2 786.3V1005.8M171.9 786.3H176.2M171.9 830.2H176.2M171.9 874.1H176.2M171.9 918.0H176.2M171.9 961.9H176.2M171.9 1005.8H176.2" fill="none" stroke="#2e2e2e" stroke-width="1.8"/>
<path d="M216.2 786.3V1005.8M211.9 786.3H216.2M211.9 830.2H216.2M211.9 874.1H216.2M211.9 918.0H216.2M211.9 961.9H216.2M211.9 1005.8H216.2" fill="none" stroke="#2e2e2e" stroke-width="1.8"/>
<text transform="translate(137.0 899.9) rotate(-90)" font-size="21.28" fill="#2b2b2b" text-anchor="middle">Fraction-associated</text>
<text transform="translate(161.2 899.8) rotate(-90)" font-size="21.66" fill="#2b2b2b" text-anchor="middle">(relative type count)</text>
<rect x="186.50" y="867.30" width="9.10" height="138.70" fill="#c8e8d6"/>
<rect x="195.50" y="796.50" width="7.90" height="209.30" fill="#fff"/>
<path d="M194.5 786.4L204.4 794.5M194.5 794.2L204.4 802.3M194.5 802.0L204.4 810.1M194.5 809.8L204.4 817.9M194.5 817.6L204.4 825.7M194.5 825.4L204.4 833.5M194.5 833.2L204.4 841.3M194.5 841.0L204.4 849.1M194.5 848.8L204.4 856.9M194.5 856.6L204.4 864.7M194.5 864.4L204.4 872.5M194.5 872.2L204.4 880.3M194.5 880.0L204.4 888.1M194.5 887.8L204.4 895.9M194.5 895.6L204.4 903.7M194.5 903.4L204.4 911.5M194.5 911.2L204.4 919.3M194.5 919.0L204.4 927.1M194.5 926.8L204.4 934.9M194.5 934.6L204.4 942.7M194.5 942.4L204.4 950.5M194.5 950.2L204.4 958.3M194.5 958.0L204.4 966.1M194.5 965.8L204.4 973.9M194.5 973.6L204.4 981.7M194.5 981.4L204.4 989.5M194.5 989.2L204.4 997.3M194.5 997.0L204.4 1005.1M194.5 1004.8L204.4 1012.9M194.5 1012.6L204.4 1020.7" clip-path="url(#c15)" stroke="#8c8c8c" stroke-width="1.20" fill="none"/>
<rect x="195.50" y="796.50" width="7.90" height="209.30" fill="none" stroke="#8c8c8c" stroke-width="1.40"/>
<rect x="224.10" y="793.10" width="8.40" height="212.90" fill="#7fcca4"/>
<rect x="232.65" y="786.65" width="7.80" height="219.10" fill="#fff"/>
<path d="M231.6 778.5L241.4 783.4M231.6 784.2L241.4 789.1M231.6 790.0L241.4 794.9M231.6 795.8L241.4 800.6M231.6 801.5L241.4 806.4M231.6 807.2L241.4 812.1M231.6 813.0L241.4 817.9M231.6 818.8L241.4 823.6M231.6 824.5L241.4 829.4M231.6 830.2L241.4 835.1M231.6 836.0L241.4 840.9M231.6 841.8L241.4 846.6M231.6 847.5L241.4 852.4M231.6 853.2L241.4 858.1M231.6 859.0L241.4 863.9M231.6 864.8L241.4 869.6M231.6 870.5L241.4 875.4M231.6 876.2L241.4 881.1M231.6 882.0L241.4 886.9M231.6 887.8L241.4 892.6M231.6 893.5L241.4 898.4M231.6 899.2L241.4 904.1M231.6 905.0L241.4 909.9M231.6 910.8L241.4 915.6M231.6 916.5L241.4 921.4M231.6 922.2L241.4 927.1M231.6 928.0L241.4 932.9M231.6 933.8L241.4 938.6M231.6 939.5L241.4 944.4M231.6 945.2L241.4 950.1M231.6 951.0L241.4 955.9M231.6 956.8L241.4 961.6M231.6 962.5L241.4 967.4M231.6 968.2L241.4 973.1M231.6 974.0L241.4 978.9M231.6 979.8L241.4 984.6M231.6 985.5L241.4 990.4M231.6 991.2L241.4 996.1M231.6 997.0L241.4 1001.9M231.6 1002.8L241.4 1007.6M231.6 1008.5L241.4 1013.4" clip-path="url(#c16)" stroke="#6a6a6a" stroke-width="1.30" fill="none"/>
<rect x="232.65" y="786.65" width="7.80" height="219.10" fill="none" stroke="#6a6a6a" stroke-width="1.50"/>
<rect x="290.10" y="810.60" width="8.40" height="195.40" fill="#73c79c"/>
<rect x="298.65" y="786.65" width="7.90" height="219.10" fill="#fff"/>
<path d="M297.6 778.4L307.6 783.4M297.6 784.2L307.6 789.1M297.6 789.9L307.6 794.9M297.6 795.7L307.6 800.6M297.6 801.4L307.6 806.4M297.6 807.2L307.6 812.1M297.6 812.9L307.6 817.9M297.6 818.7L307.6 823.6M297.6 824.4L307.6 829.4M297.6 830.2L307.6 835.1M297.6 835.9L307.6 840.9M297.6 841.7L307.6 846.6M297.6 847.4L307.6 852.4M297.6 853.2L307.6 858.1M297.6 858.9L307.6 863.9M297.6 864.7L307.6 869.6M297.6 870.4L307.6 875.4M297.6 876.2L307.6 881.1M297.6 881.9L307.6 886.9M297.6 887.7L307.6 892.6M297.6 893.4L307.6 898.4M297.6 899.2L307.6 904.1M297.6 904.9L307.6 909.9M297.6 910.7L307.6 915.6M297.6 916.4L307.6 921.4M297.6 922.2L307.6 927.1M297.6 927.9L307.6 932.9M297.6 933.7L307.6 938.6M297.6 939.4L307.6 944.4M297.6 945.2L307.6 950.1M297.6 950.9L307.6 955.9M297.6 956.7L307.6 961.6M297.6 962.4L307.6 967.4M297.6 968.2L307.6 973.1M297.6 973.9L307.6 978.9M297.6 979.7L307.6 984.6M297.6 985.4L307.6 990.4M297.6 991.2L307.6 996.1M297.6 996.9L307.6 1001.9M297.6 1002.7L307.6 1007.6M297.6 1008.4L307.6 1013.4" clip-path="url(#c17)" stroke="#555" stroke-width="1.30" fill="none"/>
<rect x="298.65" y="786.65" width="7.90" height="219.10" fill="none" stroke="#555" stroke-width="1.50"/>
<rect x="333.50" y="799.60" width="8.40" height="206.40" fill="#66c394"/>
<rect x="342.05" y="786.65" width="7.80" height="219.10" fill="#fff"/>
<path d="M341.1 778.5L350.9 783.4M341.1 784.2L350.9 789.1M341.1 790.0L350.9 794.9M341.1 795.8L350.9 800.6M341.1 801.5L350.9 806.4M341.1 807.2L350.9 812.1M341.1 813.0L350.9 817.9M341.1 818.8L350.9 823.6M341.1 824.5L350.9 829.4M341.1 830.2L350.9 835.1M341.1 836.0L350.9 840.9M341.1 841.8L350.9 846.6M341.1 847.5L350.9 852.4M341.1 853.2L350.9 858.1M341.1 859.0L350.9 863.9M341.1 864.8L350.9 869.6M341.1 870.5L350.9 875.4M341.1 876.2L350.9 881.1M341.1 882.0L350.9 886.9M341.1 887.8L350.9 892.6M341.1 893.5L350.9 898.4M341.1 899.2L350.9 904.1M341.1 905.0L350.9 909.9M341.1 910.8L350.9 915.6M341.1 916.5L350.9 921.4M341.1 922.2L350.9 927.1M341.1 928.0L350.9 932.9M341.1 933.8L350.9 938.6M341.1 939.5L350.9 944.4M341.1 945.2L350.9 950.1M341.1 951.0L350.9 955.9M341.1 956.8L350.9 961.6M341.1 962.5L350.9 967.4M341.1 968.2L350.9 973.1M341.1 974.0L350.9 978.9M341.1 979.8L350.9 984.6M341.1 985.5L350.9 990.4M341.1 991.2L350.9 996.1M341.1 997.0L350.9 1001.9M341.1 1002.8L350.9 1007.6M341.1 1008.5L350.9 1013.4" clip-path="url(#c18)" stroke="#4a4a4a" stroke-width="1.30" fill="none"/>
<rect x="342.05" y="786.65" width="7.80" height="219.10" fill="none" stroke="#4a4a4a" stroke-width="1.50"/>
<rect x="365.00" y="813.20" width="8.30" height="192.80" fill="#5abe8c"/>
<rect x="373.45" y="786.65" width="8.30" height="219.10" fill="#fff"/>
<path d="M372.4 778.2L382.8 783.4M372.4 784.0L382.8 789.1M372.4 789.8L382.8 794.9M372.4 795.5L382.8 800.6M372.4 801.2L382.8 806.4M372.4 807.0L382.8 812.1M372.4 812.8L382.8 817.9M372.4 818.5L382.8 823.6M372.4 824.2L382.8 829.4M372.4 830.0L382.8 835.1M372.4 835.8L382.8 840.9M372.4 841.5L382.8 846.6M372.4 847.2L382.8 852.4M372.4 853.0L382.8 858.1M372.4 858.8L382.8 863.9M372.4 864.5L382.8 869.6M372.4 870.2L382.8 875.4M372.4 876.0L382.8 881.1M372.4 881.8L382.8 886.9M372.4 887.5L382.8 892.6M372.4 893.2L382.8 898.4M372.4 899.0L382.8 904.1M372.4 904.8L382.8 909.9M372.4 910.5L382.8 915.6M372.4 916.2L382.8 921.4M372.4 922.0L382.8 927.1M372.4 927.8L382.8 932.9M372.4 933.5L382.8 938.6M372.4 939.2L382.8 944.4M372.4 945.0L382.8 950.1M372.4 950.8L382.8 955.9M372.4 956.5L382.8 961.6M372.4 962.2L382.8 967.4M372.4 968.0L382.8 973.1M372.4 973.8L382.8 978.9M372.4 979.5L382.8 984.6M372.4 985.2L382.8 990.4M372.4 991.0L382.8 996.1M372.4 996.8L382.8 1001.9M372.4 1002.5L382.8 1007.6M372.4 1008.2L382.8 1013.4" clip-path="url(#c19)" stroke="#333" stroke-width="1.30" fill="none"/>
<rect x="373.45" y="786.65" width="8.30" height="219.10" fill="none" stroke="#333" stroke-width="1.50"/>
<rect x="389.60" y="819.70" width="8.30" height="186.30" fill="#4cb983"/>
<rect x="398.05" y="786.65" width="8.00" height="219.10" fill="#fff"/>
<path d="M397.1 778.4L407.1 783.4M397.1 784.1L407.1 789.1M397.1 789.9L407.1 794.9M397.1 795.6L407.1 800.6M397.1 801.4L407.1 806.4M397.1 807.1L407.1 812.1M397.1 812.9L407.1 817.9M397.1 818.6L407.1 823.6M397.1 824.4L407.1 829.4M397.1 830.1L407.1 835.1M397.1 835.9L407.1 840.9M397.1 841.6L407.1 846.6M397.1 847.4L407.1 852.4M397.1 853.1L407.1 858.1M397.1 858.9L407.1 863.9M397.1 864.6L407.1 869.6M397.1 870.4L407.1 875.4M397.1 876.1L407.1 881.1M397.1 881.9L407.1 886.9M397.1 887.6L407.1 892.6M397.1 893.4L407.1 898.4M397.1 899.1L407.1 904.1M397.1 904.9L407.1 909.9M397.1 910.6L407.1 915.6M397.1 916.4L407.1 921.4M397.1 922.1L407.1 927.1M397.1 927.9L407.1 932.9M397.1 933.6L407.1 938.6M397.1 939.4L407.1 944.4M397.1 945.1L407.1 950.1M397.1 950.9L407.1 955.9M397.1 956.6L407.1 961.6M397.1 962.4L407.1 967.4M397.1 968.1L407.1 973.1M397.1 973.9L407.1 978.9M397.1 979.6L407.1 984.6M397.1 985.4L407.1 990.4M397.1 991.1L407.1 996.1M397.1 996.9L407.1 1001.9M397.1 1002.6L407.1 1007.6M397.1 1008.4L407.1 1013.4" clip-path="url(#c20)" stroke="#2a2a2a" stroke-width="1.30" fill="none"/>
<rect x="398.05" y="786.65" width="8.00" height="219.10" fill="none" stroke="#2a2a2a" stroke-width="1.50"/>
<rect x="407.20" y="839.50" width="8.80" height="166.50" fill="#3eb57a"/>
<rect x="416.15" y="786.65" width="7.90" height="219.10" fill="#fff"/>
<path d="M415.1 778.4L425.1 783.4M415.1 784.2L425.1 789.1M415.1 789.9L425.1 794.9M415.1 795.7L425.1 800.6M415.1 801.4L425.1 806.4M415.1 807.2L425.1 812.1M415.1 812.9L425.1 817.9M415.1 818.7L425.1 823.6M415.1 824.4L425.1 829.4M415.1 830.2L425.1 835.1M415.1 835.9L425.1 840.9M415.1 841.7L425.1 846.6M415.1 847.4L425.1 852.4M415.1 853.2L425.1 858.1M415.1 858.9L425.1 863.9M415.1 864.7L425.1 869.6M415.1 870.4L425.1 875.4M415.1 876.2L425.1 881.1M415.1 881.9L425.1 886.9M415.1 887.7L425.1 892.6M415.1 893.4L425.1 898.4M415.1 899.2L425.1 904.1M415.1 904.9L425.1 909.9M415.1 910.7L425.1 915.6M415.1 916.4L425.1 921.4M415.1 922.2L425.1 927.1M415.1 927.9L425.1 932.9M415.1 933.7L425.1 938.6M415.1 939.4L425.1 944.4M415.1 945.2L425.1 950.1M415.1 950.9L425.1 955.9M415.1 956.7L425.1 961.6M415.1 962.4L425.1 967.4M415.1 968.2L425.1 973.1M415.1 973.9L425.1 978.9M415.1 979.7L425.1 984.6M415.1 985.4L425.1 990.4M415.1 991.2L425.1 996.1M415.1 996.9L425.1 1001.9M415.1 1002.7L425.1 1007.6M415.1 1008.4L425.1 1013.4" clip-path="url(#c21)" stroke="#222" stroke-width="1.30" fill="none"/>
<rect x="416.15" y="786.65" width="7.90" height="219.10" fill="none" stroke="#222" stroke-width="1.50"/>
<rect x="425.70" y="876.10" width="8.10" height="129.90" fill="#22ad68"/>
<rect x="433.95" y="786.65" width="8.20" height="219.10" fill="#fff"/>
<path d="M432.9 778.3L443.1 783.4M432.9 784.0L443.1 789.1M432.9 789.8L443.1 794.9M432.9 795.5L443.1 800.6M432.9 801.3L443.1 806.4M432.9 807.0L443.1 812.1M432.9 812.8L443.1 817.9M432.9 818.5L443.1 823.6M432.9 824.3L443.1 829.4M432.9 830.0L443.1 835.1M432.9 835.8L443.1 840.9M432.9 841.5L443.1 846.6M432.9 847.3L443.1 852.4M432.9 853.0L443.1 858.1M432.9 858.8L443.1 863.9M432.9 864.5L443.1 869.6M432.9 870.3L443.1 875.4M432.9 876.0L443.1 881.1M432.9 881.8L443.1 886.9M432.9 887.5L443.1 892.6M432.9 893.3L443.1 898.4M432.9 899.0L443.1 904.1M432.9 904.8L443.1 909.9M432.9 910.5L443.1 915.6M432.9 916.3L443.1 921.4M432.9 922.0L443.1 927.1M432.9 927.8L443.1 932.9M432.9 933.5L443.1 938.6M432.9 939.3L443.1 944.4M432.9 945.0L443.1 950.1M432.9 950.8L443.1 955.9M432.9 956.5L443.1 961.6M432.9 962.3L443.1 967.4M432.9 968.0L443.1 973.1M432.9 973.8L443.1 978.9M432.9 979.5L443.1 984.6M432.9 985.3L443.1 990.4M432.9 991.0L443.1 996.1M432.9 996.8L443.1 1001.9M432.9 1002.5L443.1 1007.6M432.9 1008.3L443.1 1013.4" clip-path="url(#c22)" stroke="#222" stroke-width="1.30" fill="none"/>
<rect x="433.95" y="786.65" width="8.20" height="219.10" fill="none" stroke="#222" stroke-width="1.50"/>
<rect x="467.90" y="922.30" width="8.30" height="83.70" fill="#00a551"/>
<rect x="476.35" y="786.65" width="7.90" height="219.10" fill="#fff"/>
<path d="M475.3 778.4L485.2 783.4M475.3 784.2L485.2 789.1M475.3 789.9L485.2 794.9M475.3 795.7L485.2 800.6M475.3 801.4L485.2 806.4M475.3 807.2L485.2 812.1M475.3 812.9L485.2 817.9M475.3 818.7L485.2 823.6M475.3 824.4L485.2 829.4M475.3 830.2L485.2 835.1M475.3 835.9L485.2 840.9M475.3 841.7L485.2 846.6M475.3 847.4L485.2 852.4M475.3 853.2L485.2 858.1M475.3 858.9L485.2 863.9M475.3 864.7L485.2 869.6M475.3 870.4L485.2 875.4M475.3 876.2L485.2 881.1M475.3 881.9L485.2 886.9M475.3 887.7L485.2 892.6M475.3 893.4L485.2 898.4M475.3 899.2L485.2 904.1M475.3 904.9L485.2 909.9M475.3 910.7L485.2 915.6M475.3 916.4L485.2 921.4M475.3 922.2L485.2 927.1M475.3 927.9L485.2 932.9M475.3 933.7L485.2 938.6M475.3 939.4L485.2 944.4M475.3 945.2L485.2 950.1M475.3 950.9L485.2 955.9M475.3 956.7L485.2 961.6M475.3 962.4L485.2 967.4M475.3 968.2L485.2 973.1M475.3 973.9L485.2 978.9M475.3 979.7L485.2 984.6M475.3 985.4L485.2 990.4M475.3 991.2L485.2 996.1M475.3 996.9L485.2 1001.9M475.3 1002.7L485.2 1007.6M475.3 1008.4L485.2 1013.4" clip-path="url(#c23)" stroke="#1a1a1a" stroke-width="1.30" fill="none"/>
<rect x="476.35" y="786.65" width="7.90" height="219.10" fill="none" stroke="#1a1a1a" stroke-width="1.50"/>
<text x="197.0" y="1025.3" font-size="19" fill="#5a5a5a" text-anchor="middle" textLength="49" lengthAdjust="spacingAndGlyphs">Free*</text>
<text x="232.3" y="1025.3" font-size="19" fill="#5a5a5a" text-anchor="middle">1</text>
<text x="300.8" y="1025.3" font-size="19" fill="#5a5a5a" text-anchor="middle">2</text>
<text x="343.0" y="1025.3" font-size="19" fill="#5a5a5a" text-anchor="middle">3</text>
<text x="375.3" y="1025.3" font-size="19" fill="#5a5a5a" text-anchor="middle">4</text>
<text x="398.6" y="1025.3" font-size="19" fill="#5a5a5a" text-anchor="middle">5</text>
<text x="418.0" y="1025.3" font-size="19" fill="#5a5a5a" text-anchor="middle">6</text>
<text x="433.7" y="1025.3" font-size="19" fill="#5a5a5a" text-anchor="middle">7</text>
<text x="481.7" y="1025.3" font-size="19" fill="#5a5a5a" text-anchor="middle">8+</text>
</svg>
</body></html>
